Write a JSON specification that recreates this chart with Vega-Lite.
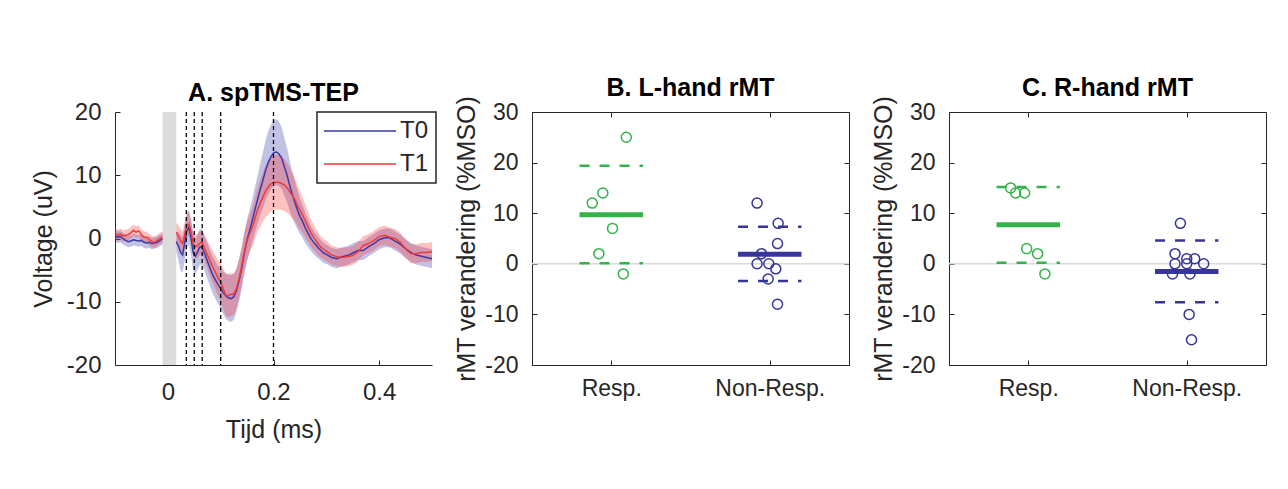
{
  "$schema": "https://vega.github.io/schema/vega-lite/v6.json",
  "background": "white",
  "padding": {"left": 31, "top": 75, "right": 5, "bottom": 5},
  "bounds": "flush",
  "spacing": 100,
  "config": {
    "font": "Liberation Sans",
    "view": {"stroke": null},
    "axis": {"grid": false, "domainColor": "#262626", "tickColor": "#262626", "labelColor": "#262626", "titleColor": "#262626", "labelFontSize": 23, "titleFontSize": 25, "titleFontWeight": "normal", "tickSize": -5, "labelPadding": 19, "domainWidth": 1, "tickWidth": 1},
    "title": {"fontSize": 25, "fontWeight": "bold", "color": "black", "offset": -6},
    "legend": {"labelFontSize": 24, "labelColor": "#262626", "symbolType": "M-3.6,0H3.6", "symbolSize": 400, "symbolStrokeWidth": 1.5, "symbolOffset": 24, "labelOffset": 28, "strokeColor": "#262626", "strokeWidth": 1.5, "fillColor": "white", "padding": 7, "rowPadding": 9}
  },
  "datasets": {
    "stim": [{"t0": -0.01, "t1": 0.016}],
    "marks": [{"t": 0.035}, {"t": 0.05}, {"t": 0.065}, {"t": 0.1}, {"t": 0.2}],
    "tep": [
      {"g":1,"t":-0.100,"b":0.4,"bl":-0.5,"bh":1.3,"r":0.8,"rl":-0.1,"rh":1.7},
      {"g":1,"t":-0.095,"b":0.2,"bl":-0.7,"bh":1.1,"r":0.5,"rl":-0.4,"rh":1.4},
      {"g":1,"t":-0.090,"b":0.3,"bl":-0.6,"bh":1.2,"r":0.7,"rl":-0.2,"rh":1.6},
      {"g":1,"t":-0.085,"b":0.0,"bl":-0.9,"bh":0.9,"r":0.4,"rl":-0.5,"rh":1.3},
      {"g":1,"t":-0.080,"b":-0.3,"bl":-1.2,"bh":0.6,"r":0.5,"rl":-0.4,"rh":1.4},
      {"g":1,"t":-0.075,"b":-0.5,"bl":-1.4,"bh":0.4,"r":0.6,"rl":-0.3,"rh":1.5},
      {"g":1,"t":-0.070,"b":-0.4,"bl":-1.3,"bh":0.5,"r":0.9,"rl":0.0,"rh":1.8},
      {"g":1,"t":-0.065,"b":-0.2,"bl":-1.1,"bh":0.7,"r":1.3,"rl":0.4,"rh":2.2},
      {"g":1,"t":-0.060,"b":-0.3,"bl":-1.2,"bh":0.6,"r":1.0,"rl":0.1,"rh":1.9},
      {"g":1,"t":-0.055,"b":-0.4,"bl":-1.3,"bh":0.5,"r":1.2,"rl":0.3,"rh":2.1},
      {"g":1,"t":-0.050,"b":-0.3,"bl":-1.2,"bh":0.6,"r":0.6,"rl":-0.3,"rh":1.5},
      {"g":1,"t":-0.045,"b":-0.6,"bl":-1.5,"bh":0.3,"r":0.2,"rl":-0.7,"rh":1.1},
      {"g":1,"t":-0.040,"b":-0.7,"bl":-1.6,"bh":0.2,"r":0.2,"rl":-0.7,"rh":1.1},
      {"g":1,"t":-0.035,"b":-0.6,"bl":-1.5,"bh":0.3,"r":-0.2,"rl":-1.1,"rh":0.7},
      {"g":1,"t":-0.030,"b":-0.8,"bl":-1.7,"bh":0.1,"r":-0.5,"rl":-1.4,"rh":0.4},
      {"g":1,"t":-0.025,"b":-0.7,"bl":-1.6,"bh":0.2,"r":-0.6,"rl":-1.5,"rh":0.3},
      {"g":1,"t":-0.020,"b":-0.6,"bl":-1.5,"bh":0.3,"r":-0.3,"rl":-1.2,"rh":0.6},
      {"g":1,"t":-0.015,"b":-0.3,"bl":-1.2,"bh":0.6,"r":0.0,"rl":-0.9,"rh":0.9},
      {"g":1,"t":-0.010,"b":-0.1,"bl":-1.0,"bh":0.8,"r":0.2,"rl":-0.7,"rh":1.1},
      {"g":2,"t":0.016,"b":-0.5,"bl":-2.0,"bh":1.0,"r":1.0,"rl":-0.5,"rh":2.5},
      {"g":2,"t":0.020,"b":-1.2,"bl":-3.4,"bh":1.0,"r":0.4,"rl":-1.3,"rh":2.1},
      {"g":2,"t":0.024,"b":-2.2,"bl":-5.0,"bh":0.6,"r":-0.4,"rl":-2.3,"rh":1.5},
      {"g":2,"t":0.028,"b":-2.6,"bl":-5.4,"bh":0.2,"r":-0.8,"rl":-2.7,"rh":1.1},
      {"g":2,"t":0.032,"b":-0.6,"bl":-3.4,"bh":2.2,"r":0.6,"rl":-1.3,"rh":2.5},
      {"g":2,"t":0.036,"b":1.2,"bl":-1.6,"bh":4.0,"r":2.0,"rl":0.1,"rh":3.9},
      {"g":2,"t":0.040,"b":1.8,"bl":-1.0,"bh":4.6,"r":2.3,"rl":0.4,"rh":4.2},
      {"g":2,"t":0.044,"b":0.0,"bl":-2.8,"bh":2.8,"r":1.0,"rl":-0.9,"rh":2.9},
      {"g":2,"t":0.048,"b":-2.2,"bl":-5.0,"bh":0.6,"r":-0.8,"rl":-2.7,"rh":1.1},
      {"g":2,"t":0.052,"b":-2.8,"bl":-5.6,"bh":0.0,"r":-1.3,"rl":-3.2,"rh":0.6},
      {"g":2,"t":0.056,"b":-2.2,"bl":-5.0,"bh":0.6,"r":-1.2,"rl":-3.1,"rh":0.7},
      {"g":2,"t":0.060,"b":-1.4,"bl":-4.2,"bh":1.4,"r":-0.8,"rl":-2.7,"rh":1.1},
      {"g":2,"t":0.064,"b":-1.3,"bl":-4.1,"bh":1.5,"r":-0.6,"rl":-2.5,"rh":1.3},
      {"g":2,"t":0.068,"b":-2.0,"bl":-4.8,"bh":0.8,"r":-1.2,"rl":-3.2,"rh":0.8},
      {"g":2,"t":0.075,"b":-3.6,"bl":-6.4,"bh":-0.8,"r":-2.6,"rl":-4.8,"rh":-0.4},
      {"g":2,"t":0.085,"b":-5.8,"bl":-8.7,"bh":-2.9,"r":-4.5,"rl":-7.1,"rh":-1.9},
      {"g":2,"t":0.095,"b":-7.3,"bl":-10.3,"bh":-4.3,"r":-6.2,"rl":-9.0,"rh":-3.4},
      {"g":2,"t":0.100,"b":-7.9,"bl":-11.1,"bh":-4.7,"r":-6.9,"rl":-9.9,"rh":-3.9},
      {"g":2,"t":0.105,"b":-8.6,"bl":-12.0,"bh":-5.2,"r":-8.0,"rl":-11.2,"rh":-4.8},
      {"g":2,"t":0.110,"b":-9.1,"bl":-12.7,"bh":-5.5,"r":-9.0,"rl":-12.3,"rh":-5.7},
      {"g":2,"t":0.115,"b":-9.4,"bl":-13.1,"bh":-5.7,"r":-9.0,"rl":-12.4,"rh":-5.6},
      {"g":2,"t":0.120,"b":-9.5,"bl":-13.2,"bh":-5.8,"r":-8.8,"rl":-12.2,"rh":-5.4},
      {"g":2,"t":0.125,"b":-9.2,"bl":-12.8,"bh":-5.6,"r":-8.8,"rl":-12.1,"rh":-5.5},
      {"g":2,"t":0.130,"b":-8.2,"bl":-11.6,"bh":-4.8,"r":-7.9,"rl":-11.1,"rh":-4.7},
      {"g":2,"t":0.135,"b":-6.6,"bl":-9.9,"bh":-3.3,"r":-6.3,"rl":-9.4,"rh":-3.2},
      {"g":2,"t":0.140,"b":-4.6,"bl":-7.9,"bh":-1.3,"r":-4.3,"rl":-7.3,"rh":-1.3},
      {"g":2,"t":0.145,"b":-2.2,"bl":-5.5,"bh":1.1,"r":-2.0,"rl":-5.0,"rh":1.0},
      {"g":2,"t":0.150,"b":-0.2,"bl":-3.5,"bh":3.1,"r":-0.4,"rl":-3.4,"rh":2.6},
      {"g":2,"t":0.155,"b":1.3,"bl":-2.0,"bh":4.6,"r":0.8,"rl":-2.2,"rh":3.8},
      {"g":2,"t":0.160,"b":2.9,"bl":-0.5,"bh":6.3,"r":1.8,"rl":-1.3,"rh":4.9},
      {"g":2,"t":0.165,"b":4.6,"bl":1.0,"bh":8.2,"r":3.2,"rl":-0.1,"rh":6.5},
      {"g":2,"t":0.170,"b":6.2,"bl":2.4,"bh":10.0,"r":4.6,"rl":1.1,"rh":8.1},
      {"g":2,"t":0.175,"b":7.8,"bl":3.7,"bh":11.9,"r":5.6,"rl":1.9,"rh":9.3},
      {"g":2,"t":0.180,"b":9.2,"bl":4.8,"bh":13.6,"r":6.6,"rl":2.7,"rh":10.5},
      {"g":2,"t":0.185,"b":10.8,"bl":6.1,"bh":15.5,"r":7.5,"rl":3.4,"rh":11.6},
      {"g":2,"t":0.190,"b":12.0,"bl":7.0,"bh":17.0,"r":8.1,"rl":3.8,"rh":12.4},
      {"g":2,"t":0.195,"b":12.9,"bl":7.8,"bh":18.0,"r":8.6,"rl":4.3,"rh":12.9},
      {"g":2,"t":0.200,"b":13.5,"bl":8.3,"bh":18.7,"r":8.9,"rl":4.6,"rh":13.2},
      {"g":2,"t":0.205,"b":13.7,"bl":8.5,"bh":18.9,"r":8.9,"rl":4.6,"rh":13.2},
      {"g":2,"t":0.210,"b":13.4,"bl":8.3,"bh":18.5,"r":8.9,"rl":4.6,"rh":13.2},
      {"g":2,"t":0.215,"b":12.8,"bl":7.9,"bh":17.7,"r":8.7,"rl":4.5,"rh":12.9},
      {"g":2,"t":0.220,"b":11.5,"bl":6.9,"bh":16.1,"r":8.5,"rl":4.4,"rh":12.6},
      {"g":2,"t":0.225,"b":10.2,"bl":5.9,"bh":14.5,"r":8.1,"rl":4.1,"rh":12.1},
      {"g":2,"t":0.230,"b":8.6,"bl":4.6,"bh":12.6,"r":7.5,"rl":3.7,"rh":11.3},
      {"g":2,"t":0.235,"b":7.1,"bl":3.4,"bh":10.8,"r":6.9,"rl":3.3,"rh":10.5},
      {"g":2,"t":0.240,"b":5.8,"bl":2.4,"bh":9.2,"r":6.2,"rl":2.8,"rh":9.6},
      {"g":2,"t":0.245,"b":4.6,"bl":1.5,"bh":7.7,"r":5.3,"rl":2.1,"rh":8.5},
      {"g":2,"t":0.250,"b":3.5,"bl":0.7,"bh":6.3,"r":4.5,"rl":1.5,"rh":7.5},
      {"g":2,"t":0.255,"b":2.7,"bl":0.1,"bh":5.3,"r":3.7,"rl":0.9,"rh":6.5},
      {"g":2,"t":0.260,"b":1.7,"bl":-0.7,"bh":4.1,"r":2.8,"rl":0.2,"rh":5.4},
      {"g":2,"t":0.265,"b":0.9,"bl":-1.3,"bh":3.1,"r":1.9,"rl":-0.5,"rh":4.3},
      {"g":2,"t":0.270,"b":0.1,"bl":-1.9,"bh":2.1,"r":1.0,"rl":-1.2,"rh":3.2},
      {"g":2,"t":0.275,"b":-0.5,"bl":-2.4,"bh":1.4,"r":0.3,"rl":-1.7,"rh":2.3},
      {"g":2,"t":0.280,"b":-1.0,"bl":-2.8,"bh":0.8,"r":-0.3,"rl":-2.2,"rh":1.6},
      {"g":2,"t":0.285,"b":-1.5,"bl":-3.2,"bh":0.2,"r":-0.9,"rl":-2.7,"rh":0.9},
      {"g":2,"t":0.290,"b":-1.9,"bl":-3.5,"bh":-0.3,"r":-1.4,"rl":-3.1,"rh":0.3},
      {"g":2,"t":0.295,"b":-2.3,"bl":-3.9,"bh":-0.7,"r":-1.7,"rl":-3.3,"rh":-0.1},
      {"g":2,"t":0.300,"b":-2.5,"bl":-4.0,"bh":-1.0,"r":-2.0,"rl":-3.6,"rh":-0.4},
      {"g":2,"t":0.310,"b":-3.0,"bl":-4.5,"bh":-1.5,"r":-2.6,"rl":-4.1,"rh":-1.1},
      {"g":2,"t":0.320,"b":-3.2,"bl":-4.7,"bh":-1.7,"r":-2.9,"rl":-4.4,"rh":-1.4},
      {"g":2,"t":0.330,"b":-2.9,"bl":-4.4,"bh":-1.4,"r":-3.0,"rl":-4.5,"rh":-1.5},
      {"g":2,"t":0.340,"b":-2.7,"bl":-4.2,"bh":-1.2,"r":-2.9,"rl":-4.4,"rh":-1.4},
      {"g":2,"t":0.350,"b":-2.3,"bl":-3.8,"bh":-0.8,"r":-2.7,"rl":-4.2,"rh":-1.2},
      {"g":2,"t":0.360,"b":-1.9,"bl":-3.4,"bh":-0.4,"r":-2.1,"rl":-3.6,"rh":-0.6},
      {"g":2,"t":0.370,"b":-1.9,"bl":-3.4,"bh":-0.4,"r":-1.1,"rl":-2.6,"rh":0.4},
      {"g":2,"t":0.380,"b":-1.3,"bl":-2.8,"bh":0.2,"r":-0.8,"rl":-2.3,"rh":0.7},
      {"g":2,"t":0.390,"b":-0.8,"bl":-2.3,"bh":0.7,"r":-0.3,"rl":-1.8,"rh":1.2},
      {"g":2,"t":0.400,"b":-0.2,"bl":-1.7,"bh":1.3,"r":0.3,"rl":-1.2,"rh":1.8},
      {"g":2,"t":0.410,"b":0.1,"bl":-1.4,"bh":1.6,"r":0.5,"rl":-1.0,"rh":2.0},
      {"g":2,"t":0.420,"b":0.1,"bl":-1.4,"bh":1.6,"r":0.2,"rl":-1.3,"rh":1.7},
      {"g":2,"t":0.430,"b":-0.4,"bl":-1.9,"bh":1.1,"r":0.0,"rl":-1.5,"rh":1.5},
      {"g":2,"t":0.440,"b":-0.9,"bl":-2.4,"bh":0.6,"r":-0.6,"rl":-2.1,"rh":0.9},
      {"g":2,"t":0.450,"b":-1.6,"bl":-3.1,"bh":-0.1,"r":-1.6,"rl":-3.1,"rh":-0.1},
      {"g":2,"t":0.460,"b":-2.2,"bl":-3.7,"bh":-0.7,"r":-2.4,"rl":-3.9,"rh":-0.9},
      {"g":2,"t":0.470,"b":-2.6,"bl":-4.1,"bh":-1.1,"r":-2.4,"rl":-3.9,"rh":-0.9},
      {"g":2,"t":0.480,"b":-2.8,"bl":-4.3,"bh":-1.3,"r":-2.2,"rl":-3.7,"rh":-0.7},
      {"g":2,"t":0.490,"b":-3.0,"bl":-4.5,"bh":-1.5,"r":-2.2,"rl":-3.7,"rh":-0.7},
      {"g":2,"t":0.500,"b":-3.2,"bl":-4.7,"bh":-1.7,"r":-2.1,"rl":-3.6,"rh":-0.6}
    ],
    "ptsB": [
      {"g":"Resp.","x":1.095,"y":25},{"g":"Resp.","x":0.947,"y":14},{"g":"Resp.","x":0.88,"y":12},
      {"g":"Resp.","x":1.008,"y":7},{"g":"Resp.","x":0.922,"y":2},{"g":"Resp.","x":1.076,"y":-2},
      {"g":"Non-Resp.","x":1.92,"y":12},{"g":"Non-Resp.","x":2.053,"y":8},{"g":"Non-Resp.","x":2.049,"y":4},
      {"g":"Non-Resp.","x":1.948,"y":2},{"g":"Non-Resp.","x":1.92,"y":0},{"g":"Non-Resp.","x":1.994,"y":0},
      {"g":"Non-Resp.","x":2.038,"y":-1},{"g":"Non-Resp.","x":1.99,"y":-3},{"g":"Non-Resp.","x":2.049,"y":-8}
    ],
    "ptsC": [
      {"g":"Resp.","x":0.889,"y":15},{"g":"Resp.","x":0.92,"y":14},{"g":"Resp.","x":0.977,"y":14},
      {"g":"Resp.","x":0.99,"y":3},{"g":"Resp.","x":1.059,"y":2},{"g":"Resp.","x":1.105,"y":-2},
      {"g":"Non-Resp.","x":1.96,"y":8},{"g":"Non-Resp.","x":1.926,"y":2},{"g":"Non-Resp.","x":2.0,"y":1},
      {"g":"Non-Resp.","x":2.05,"y":1},{"g":"Non-Resp.","x":1.926,"y":0},{"g":"Non-Resp.","x":2.0,"y":0},
      {"g":"Non-Resp.","x":2.107,"y":0},{"g":"Non-Resp.","x":1.91,"y":-2},{"g":"Non-Resp.","x":2.02,"y":-2},
      {"g":"Non-Resp.","x":2.015,"y":-10},{"g":"Non-Resp.","x":2.03,"y":-15}
    ],
    "sumB": [
      {"g":"Resp.","xa":0.8,"xb":1.2,"m":9.7,"lo":0.1,"hi":19.4},
      {"g":"Non-Resp.","xa":1.8,"xb":2.2,"m":1.9,"lo":-3.4,"hi":7.3}
    ],
    "sumC": [
      {"g":"Resp.","xa":0.8,"xb":1.2,"m":7.7,"lo":0.2,"hi":15.2},
      {"g":"Non-Resp.","xa":1.8,"xb":2.2,"m":-1.5,"lo":-7.6,"hi":4.6}
    ]
  },
  "hconcat": [
    {
      "width": 317, "height": 253,
      "title": "A. spTMS-TEP",
      "layer": [
        {"data": {"name": "stim"}, "mark": {"type": "rect", "color": "#dcdcdc"},
         "encoding": {
           "x": {"field": "t0", "type": "quantitative", "scale": {"domain": [-0.1, 0.5], "nice": false, "zero": false},
                 "axis": {"values": [0, 0.2, 0.4], "labelExpr": "datum.value == 0 ? '0' : format(datum.value, '.1f')", "title": "Tijd (ms)", "labelFontSize": 24, "titleFontSize": 25, "labelPadding": 20, "titlePadding": 13}},
           "x2": {"field": "t1"}}},
        {"data": {"name": "tep"}, "mark": {"type": "area", "fill": "#3535a8", "opacity": 0.3},
         "encoding": {"x": {"field": "t", "type": "quantitative"}, "y": {"field": "bl", "type": "quantitative"}, "y2": {"field": "bh"}, "detail": {"field": "g"}}},
        {"data": {"name": "tep"}, "mark": {"type": "area", "fill": "#ff3030", "opacity": 0.3},
         "encoding": {"x": {"field": "t", "type": "quantitative"}, "y": {"field": "rl", "type": "quantitative"}, "y2": {"field": "rh"}, "detail": {"field": "g"}}},
        {"data": {"name": "tep"}, "mark": {"type": "line", "strokeWidth": 1.5},
         "encoding": {"x": {"field": "t", "type": "quantitative"},
           "y": {"field": "b", "type": "quantitative", "scale": {"domain": [-20, 20]},
                 "axis": {"values": [-20, -10, 0, 10, 20], "labelExpr": "replace(datum.label, '\u2212', '-')", "title": "Voltage (uV)", "labelFontSize": 24, "titleFontSize": 25, "titlePadding": 10}},
           "detail": {"field": "g"},
           "stroke": {"datum": "T0", "scale": {"domain": ["T0", "T1"], "range": ["#3a3aa8", "#f03a3a"]}, "legend": {"title": null, "orient": "none", "legendX": 202, "legendY": 0}}}},
        {"data": {"name": "tep"}, "mark": {"type": "line", "strokeWidth": 1.5},
         "encoding": {"x": {"field": "t", "type": "quantitative"}, "y": {"field": "r", "type": "quantitative"}, "detail": {"field": "g"}, "stroke": {"datum": "T1"}}},
        {"data": {"name": "marks"}, "mark": {"type": "rule", "strokeDash": [4, 3], "color": "black", "strokeWidth": 1.3},
         "encoding": {"x": {"field": "t", "type": "quantitative"}}}
      ]
    },
    {
      "width": 317, "height": 253,
      "title": "B. L-hand rMT",
      "view": {"stroke": "#262626"},
      "layer": [
        {"data": {"values": [{}]}, "mark": {"type": "rule", "color": "#dadada", "strokeWidth": 1.5},
         "encoding": {"y": {"datum": 0, "type": "quantitative", "axis": null}}},
        {"data": {"name": "sumB"}, "mark": {"type": "rule", "strokeWidth": 2.5, "strokeDash": [10, 10]},
         "encoding": {"x": {"field": "xa", "type": "quantitative", "scale": {"domain": [0.5, 2.5], "nice": false, "zero": false}, "axis": {"orient": "top", "values": [1, 2], "labels": false, "title": null, "domain": false}},
           "x2": {"field": "xb"},
           "y": {"field": "lo", "type": "quantitative", "scale": {"domain": [-20, 30], "nice": false, "zero": false}, "axis": {"orient": "right", "values": [-20, -10, 0, 10, 20, 30], "labels": false, "title": null, "domain": false}},
           "color": {"field": "g", "type": "nominal", "scale": {"domain": ["Resp.", "Non-Resp."], "range": ["#33b34a", "#35359c"]}, "legend": null}}},
        {"data": {"name": "sumB"}, "mark": {"type": "rule", "strokeWidth": 2.5, "strokeDash": [10, 10]},
         "encoding": {"x": {"field": "xa", "type": "quantitative", "axis": null}, "x2": {"field": "xb"}, "y": {"field": "hi", "type": "quantitative", "axis": null}, "color": {"field": "g", "type": "nominal", "legend": null}}},
        {"data": {"name": "sumB"}, "mark": {"type": "rule", "strokeWidth": 5},
         "encoding": {"x": {"field": "xa", "type": "quantitative", "axis": null}, "x2": {"field": "xb"}, "y": {"field": "m", "type": "quantitative", "axis": null}, "color": {"field": "g", "type": "nominal", "legend": null}}},
        {"data": {"name": "ptsB"}, "mark": {"type": "point", "shape": "circle", "size": 100, "strokeWidth": 1.5, "filled": false, "opacity": 1},
         "encoding": {
           "x": {"field": "x", "type": "quantitative",
                 "axis": {"orient": "bottom", "values": [1, 2], "labelExpr": "datum.value == 1 ? 'Resp.' : 'Non-Resp.'", "title": null, "labelPadding": 17}},
           "y": {"field": "y", "type": "quantitative",
                 "axis": {"orient": "left", "values": [-20, -10, 0, 10, 20, 30], "labelExpr": "replace(datum.label, '\u2212', '-')", "title": "rMT verandering (%MSO)", "titlePadding": 5}},
           "color": {"field": "g", "type": "nominal", "legend": null}}}
      ],
      "resolve": {"axis": {"x": "independent", "y": "independent"}}
    },
    {
      "width": 317, "height": 253,
      "title": "C. R-hand rMT",
      "view": {"stroke": "#262626"},
      "layer": [
        {"data": {"values": [{}]}, "mark": {"type": "rule", "color": "#dadada", "strokeWidth": 1.5},
         "encoding": {"y": {"datum": 0, "type": "quantitative", "axis": null}}},
        {"data": {"name": "sumC"}, "mark": {"type": "rule", "strokeWidth": 2.5, "strokeDash": [10, 10]},
         "encoding": {"x": {"field": "xa", "type": "quantitative", "scale": {"domain": [0.5, 2.5], "nice": false, "zero": false}, "axis": {"orient": "top", "values": [1, 2], "labels": false, "title": null, "domain": false}},
           "x2": {"field": "xb"},
           "y": {"field": "lo", "type": "quantitative", "scale": {"domain": [-20, 30], "nice": false, "zero": false}, "axis": {"orient": "right", "values": [-20, -10, 0, 10, 20, 30], "labels": false, "title": null, "domain": false}},
           "color": {"field": "g", "type": "nominal", "scale": {"domain": ["Resp.", "Non-Resp."], "range": ["#33b34a", "#35359c"]}, "legend": null}}},
        {"data": {"name": "sumC"}, "mark": {"type": "rule", "strokeWidth": 2.5, "strokeDash": [10, 10]},
         "encoding": {"x": {"field": "xa", "type": "quantitative", "axis": null}, "x2": {"field": "xb"}, "y": {"field": "hi", "type": "quantitative", "axis": null}, "color": {"field": "g", "type": "nominal", "legend": null}}},
        {"data": {"name": "sumC"}, "mark": {"type": "rule", "strokeWidth": 5},
         "encoding": {"x": {"field": "xa", "type": "quantitative", "axis": null}, "x2": {"field": "xb"}, "y": {"field": "m", "type": "quantitative", "axis": null}, "color": {"field": "g", "type": "nominal", "legend": null}}},
        {"data": {"name": "ptsC"}, "mark": {"type": "point", "shape": "circle", "size": 100, "strokeWidth": 1.5, "filled": false, "opacity": 1},
         "encoding": {
           "x": {"field": "x", "type": "quantitative",
                 "axis": {"orient": "bottom", "values": [1, 2], "labelExpr": "datum.value == 1 ? 'Resp.' : 'Non-Resp.'", "title": null, "labelPadding": 17}},
           "y": {"field": "y", "type": "quantitative",
                 "axis": {"orient": "left", "values": [-20, -10, 0, 10, 20, 30], "labelExpr": "replace(datum.label, '\u2212', '-')", "title": "rMT verandering (%MSO)", "titlePadding": 5}},
           "color": {"field": "g", "type": "nominal", "legend": null}}}
      ],
      "resolve": {"axis": {"x": "independent", "y": "independent"}}
    }
  ]
}
